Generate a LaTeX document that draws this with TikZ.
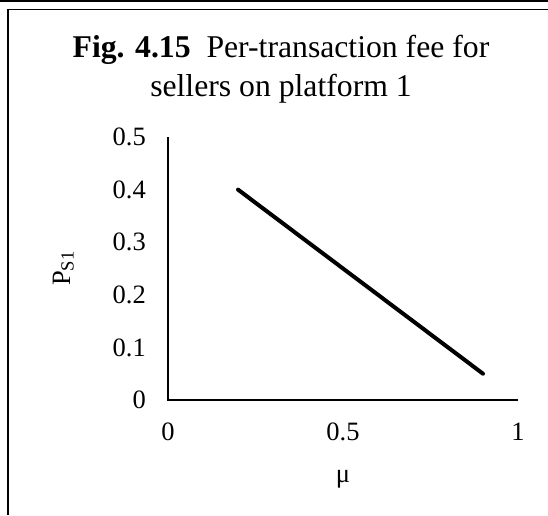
\documentclass[tikz,border=0pt]{standalone}
\usepackage{fontspec}
\setmainfont{Liberation Serif}
\usepackage{tikz}
\usetikzlibrary{positioning}

\begin{document}
\begin{tikzpicture}[x=1pt,y=-1pt,font=\fontsize{26.5}{32}\selectfont,inner sep=0pt,
    frame/.style={line width=1.7pt},
    axis/.style={line width=1.7pt},
    curve/.style={line width=4pt,line cap=round},
    ttl/.style={anchor=base,font=\fontsize{31.7}{38}\selectfont}]
  \useasboundingbox (0,0) rectangle (548,515);
  % outer rule and chart frame
  \draw[frame] (0,0.8) -- (548,0.8);
  \draw[frame] (548,9.5) -- (8,9.5) -- (8,515);
  % title
  \node[ttl] (title1) at (281,57) {\textbf{Fig. 4.15}\ \ Per-transaction fee for};
  \node[ttl] (title2) at (281,96) {sellers on platform 1};
  \coordinate (origin) at (168,400);
  \begin{scope}[shift={(origin)},x=350pt,y=526pt]
    \coordinate (ytop) at (0,0.5);
    \coordinate (xend) at (1,0);
    \draw[axis] (ytop) -- (origin) -- (xend);
    \foreach \v [count=\i] in {0,0.1,0.2,0.3,0.4,0.5}
      \node[anchor=east,xshift=-22pt] (ytick\i) at (0,\v) {\v};
    \foreach \v [count=\i] in {0,0.5,1}
      \node[anchor=base,yshift=-40pt] (xtick\i) at (\v,0) {\v};
    % fee line
    \coordinate (p1) at (0.2,0.4);
    \coordinate (p2) at (0.9,0.05);
    \draw[curve] (p1) -- (p2);
    \node[anchor=base] (xlabel) at ([yshift=-42pt]xtick2.base) {μ};
    \node[rotate=90,anchor=base] (ylabel) at (-0.28,0.25) {P\textsubscript{S1}};
  \end{scope}
\end{tikzpicture}
\end{document}
